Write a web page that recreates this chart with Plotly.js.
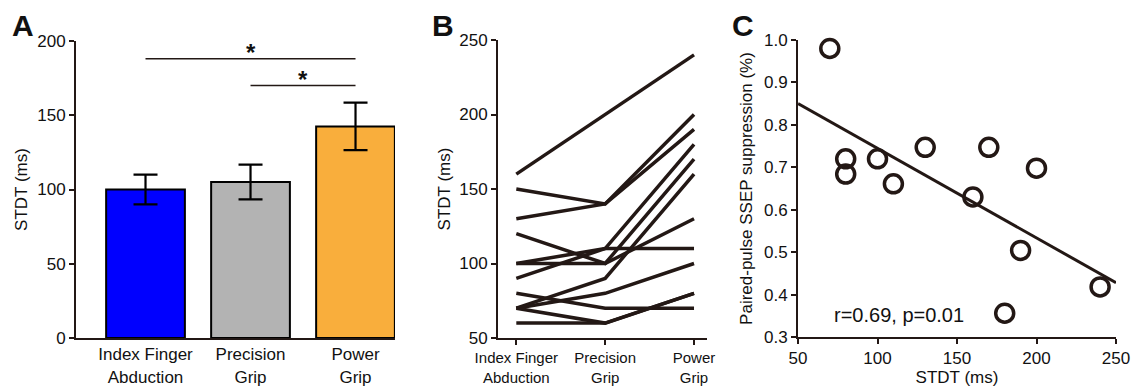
<!DOCTYPE html>
<html>
<head>
<meta charset="utf-8">
<script src="https://cdn.plot.ly/plotly-3.0.1.min.js"></script>
<style>html,body{margin:0;padding:0;background:#fff;}#chart{width:1136px;height:388px;}</style>
</head>
<body>
<div id="chart"></div>
<script>
// ---- Panel A data ----
const categories = ['Index Finger<br>Abduction', 'Precision<br>Grip', 'Power<br>Grip'];
const meanSTDT = [100, 105, 142.5];
const semSTDT = [10, 11.7, 16];
const barColors = ['#0000ff', '#b3b3b3', '#f9ae3c'];
const sigBracketY = [188, 170];

// ---- Panel B data (individual subjects) ----
const indexFinger = [160, 150, 130, 120, 100, 100, 90, 70, 70, 80, 70, 60];
const precisionGrip = [200, 140, 140, 100, 100, 110, 110, 90, 80, 70, 60, 60];
const powerGrip = [240, 200, 190, 170, 130, 110, 180, 160, 100, 70, 80, 80];

// ---- Panel C data ----
const stdtC = [70, 80, 80, 100, 110, 130, 160, 170, 180, 190, 200, 240];
const ssepC = [0.98, 0.72, 0.684, 0.72, 0.661, 0.747, 0.63, 0.747, 0.356, 0.504, 0.698, 0.418];
const fitX = [50, 250];
const fitY = [0.85, 0.428];

const INK = '#231815';
const TXT = '#111111';
const FONT = 'Liberation Sans, Arial, sans-serif';
const W = 1136, H = 388;
const px = v => v / W;
const py = v => (H - v) / H;

const traces = [];

// Panel A bars
traces.push({
  type: 'bar', x: categories, y: meanSTDT, xaxis: 'x', yaxis: 'y',
  width: 0.75,
  marker: {color: barColors, line: {color: '#000', width: 2}},
  error_y: {type: 'data', array: semSTDT, visible: true, color: '#000', thickness: 2.2, width: 12},
  hoverinfo: 'skip', showlegend: false
});
// significance brackets
traces.push({type: 'scatter', mode: 'lines', x: [categories[0], categories[2]], y: [sigBracketY[0], sigBracketY[0]],
  xaxis: 'x', yaxis: 'y', line: {color: INK, width: 1.5}, showlegend: false, hoverinfo: 'skip'});
traces.push({type: 'scatter', mode: 'lines', x: [categories[1], categories[2]], y: [sigBracketY[1], sigBracketY[1]],
  xaxis: 'x', yaxis: 'y', line: {color: INK, width: 1.5}, showlegend: false, hoverinfo: 'skip'});

// Panel B lines
for (let i = 0; i < indexFinger.length; i++) {
  traces.push({type: 'scatter', mode: 'lines', x: categories, y: [indexFinger[i], precisionGrip[i], powerGrip[i]],
    xaxis: 'x2', yaxis: 'y2', line: {color: INK, width: 3.5}, showlegend: false, hoverinfo: 'skip', cliponaxis: false});
}

// Panel C
traces.push({type: 'scatter', mode: 'lines', x: fitX, y: fitY, xaxis: 'x3', yaxis: 'y3',
  line: {color: INK, width: 3}, showlegend: false, hoverinfo: 'skip'});
traces.push({type: 'scatter', mode: 'markers', x: stdtC, y: ssepC, xaxis: 'x3', yaxis: 'y3',
  marker: {symbol: 'circle', size: 18, color: 'rgba(0,0,0,0)', line: {color: INK, width: 3.5}},
  showlegend: false, hoverinfo: 'skip', cliponaxis: false});

const tickFont = {family: FONT, size: 17, color: TXT};
const titleFont = {family: FONT, size: 17, color: TXT};
const axBase = {showgrid: false, zeroline: false, showline: true, linecolor: INK, linewidth: 2,
  ticks: 'outside', ticklen: 5, tickwidth: 2, tickcolor: INK, tickfont: tickFont, fixedrange: true};

const layout = {
  width: W, height: H,
  margin: {l: 0, r: 0, t: 0, b: 0},
  paper_bgcolor: '#fff', plot_bgcolor: '#fff',
  showlegend: false,
  font: {family: FONT, color: TXT},
  xaxis: Object.assign({}, axBase, {domain: [px(76), px(395)], anchor: 'y', type: 'category',
    range: [-0.662, 2.376], ticks: '', tickfont: tickFont}),
  yaxis: Object.assign({}, axBase, {domain: [py(338), py(41)], anchor: 'x', range: [0, 200],
    tickvals: [0, 50, 100, 150, 200], title: {text: 'STDT (ms)', font: titleFont, standoff: 5}}),
  xaxis2: Object.assign({}, axBase, {domain: [px(498), px(707)], anchor: 'y2', type: 'category',
    range: [-0.206, 2.146], tickfont: {family: FONT, size: 15, color: TXT}}),
  yaxis2: Object.assign({}, axBase, {domain: [py(338), py(40)], anchor: 'x2', range: [50, 250],
    tickvals: [50, 100, 150, 200, 250], title: {text: 'STDT (ms)', font: titleFont, standoff: 4}}),
  xaxis3: Object.assign({}, axBase, {domain: [px(798), px(1116)], anchor: 'y3', range: [50, 250],
    tickvals: [50, 100, 150, 200, 250], title: {text: 'STDT (ms)', font: titleFont, standoff: 4}}),
  yaxis3: Object.assign({}, axBase, {domain: [py(337), py(40)], anchor: 'x3', range: [0.3, 1.0],
    tickvals: [0.3, 0.4, 0.5, 0.6, 0.7, 0.8, 0.9, 1.0], tickformat: '.1f',
    title: {text: 'Paired-pulse SSEP suppression (%)', font: titleFont, standoff: 7}}),
  annotations: [
    {text: '<b>A</b>', xref: 'paper', yref: 'paper', x: px(10), y: py(26), xanchor: 'left', yanchor: 'middle',
      showarrow: false, font: {family: FONT, size: 30, color: TXT}},
    {text: '<b>B</b>', xref: 'paper', yref: 'paper', x: px(430), y: py(26), xanchor: 'left', yanchor: 'middle',
      showarrow: false, font: {family: FONT, size: 30, color: TXT}},
    {text: '<b>C</b>', xref: 'paper', yref: 'paper', x: px(730), y: py(26), xanchor: 'left', yanchor: 'middle',
      showarrow: false, font: {family: FONT, size: 30, color: TXT}},
    {text: '<b>*</b>', xref: 'x', yref: 'y', x: 1, y: sigBracketY[0], yshift: 6, showarrow: false,
      font: {family: FONT, size: 24, color: TXT}},
    {text: '<b>*</b>', xref: 'x', yref: 'y', x: 1.5, y: sigBracketY[1], yshift: 6, showarrow: false,
      font: {family: FONT, size: 24, color: TXT}},
    {text: 'r=0.69, p=0.01', xref: 'x3', yref: 'y3', x: 113.5, y: 0.352, showarrow: false, xanchor: 'center',
      font: {family: FONT, size: 20, color: TXT}}
  ]
};

Plotly.newPlot('chart', traces, layout, {staticPlot: true, displayModeBar: false});
</script>
</body>
</html>
